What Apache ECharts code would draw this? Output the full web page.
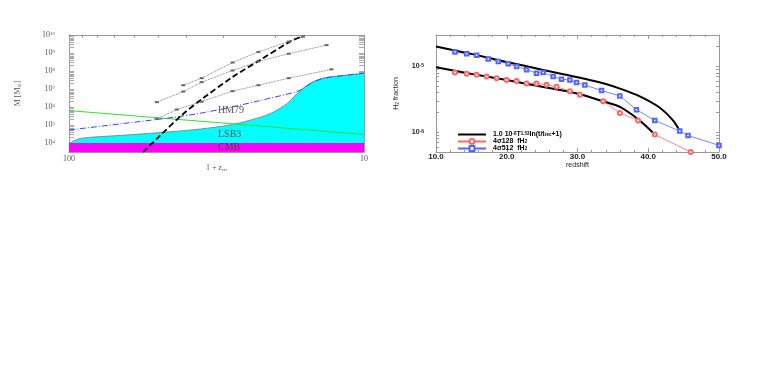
<!DOCTYPE html>
<html>
<head>
<meta charset="utf-8">
<script src="https://cdn.jsdelivr.net/npm/echarts@6/dist/echarts.min.js"></script>
<style>
html, body { margin: 0; background: #fff; }
#main { width: 763px; height: 382px; }
</style>
</head>
<body>
<div id="main"></div>
<script>
// ---- left panel: M [Msun] against 1 + z_vir ----
const cmbBand = [[100, 1e4], [10, 1e4]];
const lsbArea = [[100, 9.3e3], [91.8, 1.78e4], [67.2, 2.63e4], [49.1, 3.8e4], [35.9, 6.0e4], [28.5, 1.0e5],
  [24.3, 1.86e5], [20.8, 4.27e5], [18.2, 1.58e6], [16.5, 7.9e6], [14.9, 2.5e7], [13.6, 4.2e7], [11.6, 5.75e7], [10, 7.4e7]];
const hm79 = [[100, 5.25e4], [67.2, 1.15e5], [45.5, 2.5e5], [35.9, 4.5e5], [28.5, 9.5e5], [20.8, 3.1e6],
  [16.5, 8.3e6], [14.9, 2.4e7], [13.6, 4.0e7], [11.6, 5.75e7], [10, 7.6e7]];
const greenLine = [[100, 6.3e5], [10, 3.0e4]];
const dashedCurve = [[56.1, 3.16e3], [49.2, 2.5e4], [41.5, 3.5e5], [35.4, 2.8e6], [27.8, 4.8e7],
  [22.5, 4.1e8], [17.8, 4.3e9], [16.1, 8.9e9]];
const dotA = [[41.0, 1.62e7], [35.5, 4.0e7], [27.9, 2.95e8], [22.8, 1.15e9], [18.0, 4.3e9], [16.1, 8.1e9]];
const dotB = [[50.4, 1.86e6], [41.0, 7.2e6], [35.5, 2.4e7], [27.9, 1.07e8], [22.8, 3.4e8], [18.0, 9.1e8], [13.4, 2.75e9]];
const dotC = [[50.4, 2.2e5], [43.1, 7.2e5], [35.5, 2.0e6], [27.9, 7.6e6], [22.8, 1.62e7], [18.0, 4.0e7], [12.9, 1.23e8]];

const leftXLabels = [100, 10];
const leftXTicks = [10, 20, 30, 40, 50, 60, 70, 80, 90, 100];
const leftYLabels = [1e4, 1e5, 1e6, 1e7, 1e8, 1e9, 1e10];

// ---- right panel: H2 fraction against redshift ----
const fitHigh = [[10, 2.0e-5], [15, 1.55e-5], [20, 1.17e-5], [25, 8.9e-6], [28, 7.6e-6], [31, 6.5e-6], [34, 5.4e-6],
  [36, 4.6e-6], [38.8, 3.5e-6], [41.6, 2.37e-6], [43.5, 1.51e-6], [44.55, 1.0e-6]];
const fitLow = [[10, 9.7e-6], [15, 7.7e-6], [20, 6.2e-6], [25, 4.9e-6], [28.9, 4.1e-6], [30.3, 3.8e-6],
  [33.6, 2.95e-6], [36, 2.43e-6], [38.8, 1.51e-6], [40.6, 1.0e-6]];
const sigma128 = [[12.68, 8.1e-6], [14.33, 7.7e-6], [15.74, 7.45e-6], [17.15, 7.0e-6], [18.57, 6.6e-6], [19.98, 6.2e-6],
  [21.39, 6.0e-6], [22.8, 5.5e-6], [24.2, 5.5e-6], [25.63, 5.25e-6], [27.04, 4.9e-6], [28.92, 4.2e-6],
  [30.33, 3.7e-6], [33.63, 2.96e-6], [35.98, 1.96e-6], [38.57, 1.51e-6], [40.92, 9.2e-7], [46.0, 5.0e-7]];
const sigma512 = [[12.68, 1.66e-5], [14.33, 1.55e-5], [15.74, 1.48e-5], [17.39, 1.30e-5], [18.8, 1.19e-5], [20.21, 1.10e-5],
  [21.39, 1.0e-5], [22.8, 8.9e-6], [24.2, 7.9e-6], [25.15, 8.1e-6], [26.56, 7.0e-6], [27.74, 6.4e-6],
  [28.92, 6.2e-6], [29.86, 5.7e-6], [31.04, 5.2e-6], [33.4, 4.3e-6], [35.98, 3.55e-6], [38.33, 2.2e-6],
  [40.92, 1.51e-6], [44.45, 1.04e-6], [45.62, 8.9e-7], [50, 6.3e-7]];

const rightYLabels = [1e-6, 1e-5];

// minor ticks of a log axis: k * 10^n
function logTicks(lo, hi) {
  let out = [];
  for (let n = lo; n <= hi; n++) {
    for (let k = 1; k <= 9; k++) out.push(k * Math.pow(10, n));
  }
  return out;
}
function pow10(v) {
  return '{b|10}{s|' + Math.round(Math.log10(v)) + '}';
}

const serif = 'Liberation Serif';
const sans = 'Liberation Sans';
const frame = '#999';

let chart = echarts.init(document.getElementById('main'), null, { renderer: 'canvas' });
chart.setOption({
  animation: false,
  backgroundColor: '#fff',
  grid: [
    { left: 69, top: 35, width: 295, height: 117 },
    { left: 436, top: 35, width: 283, height: 117 }
  ],
  xAxis: [
    {
      gridIndex: 0, type: 'log', min: 10, max: 100, inverse: true, position: 'bottom',
      axisLine: { lineStyle: { color: frame } },
      axisTick: { inside: true, length: 3, customValues: leftXTicks, lineStyle: { color: frame } },
      axisLabel: { customValues: leftXLabels, formatter: v => String(Math.round(v)), margin: 3,
        fontFamily: serif, fontSize: 8, color: '#555' },
      splitLine: { show: false },
      name: '{a|1 + }{i|z}{u|vir}', nameLocation: 'middle', nameGap: 8,
      nameTextStyle: { rich: {
        a: { fontFamily: serif, fontSize: 8, color: '#555' },
        i: { fontFamily: serif, fontSize: 8, fontStyle: 'italic', color: '#555' },
        u: { fontFamily: serif, fontSize: 5, color: '#555', verticalAlign: 'bottom' }
      } }
    },
    {
      gridIndex: 0, type: 'log', min: 10, max: 100, inverse: true, position: 'top',
      axisLine: { lineStyle: { color: frame } },
      axisTick: { inside: true, length: 3, customValues: leftXTicks, lineStyle: { color: frame } },
      axisLabel: { show: false }, splitLine: { show: false }
    },
    {
      gridIndex: 1, type: 'value', min: 10, max: 50, interval: 10, position: 'bottom',
      axisLine: { lineStyle: { color: frame } },
      axisTick: { inside: true, length: 4, lineStyle: { color: frame } },
      minorTick: { show: true, splitNumber: 5, length: 2, lineStyle: { color: frame } },
      axisLabel: { formatter: v => v.toFixed(1), margin: 1, fontFamily: sans, fontWeight: 'bold', fontSize: 8, color: '#222' },
      splitLine: { show: false },
      name: 'redshift', nameLocation: 'middle', nameGap: 8,
      nameTextStyle: { fontFamily: sans, fontSize: 7, color: '#222' }
    },
    {
      gridIndex: 1, type: 'value', min: 10, max: 50, interval: 10, position: 'top',
      axisLine: { lineStyle: { color: frame } },
      axisTick: { inside: true, length: 4, lineStyle: { color: frame } },
      minorTick: { show: true, splitNumber: 5, length: 2, lineStyle: { color: frame } },
      axisLabel: { show: false }, splitLine: { show: false }
    }
  ],
  yAxis: [
    {
      gridIndex: 0, type: 'log', min: 3162, max: 1e10, position: 'left',
      axisLine: { lineStyle: { color: frame } },
      axisTick: { inside: true, length: 5, customValues: logTicks(3, 9), lineStyle: { color: '#aaa' } },
      axisLabel: { customValues: leftYLabels, formatter: pow10, margin: 14,
        rich: {
          b: { fontFamily: serif, fontSize: 8, color: '#555' },
          s: { fontFamily: serif, fontSize: 5, color: '#555', verticalAlign: 'top' }
        } },
      splitLine: { show: false },
      name: '{a|M [M}{u|⊙}{a|]}', nameLocation: 'middle', nameGap: 47,
      nameTextStyle: { rich: {
        a: { fontFamily: serif, fontSize: 8, color: '#555' },
        u: { fontFamily: 'DejaVu Sans', fontSize: 5, color: '#555', verticalAlign: 'bottom' }
      } }
    },
    {
      gridIndex: 0, type: 'log', min: 3162, max: 1e10, position: 'right',
      axisLine: { lineStyle: { color: frame } },
      axisTick: { inside: true, length: 5, customValues: logTicks(3, 9), lineStyle: { color: '#aaa' } },
      axisLabel: { show: false }, splitLine: { show: false }
    },
    {
      gridIndex: 1, type: 'log', min: 5e-7, max: 3e-5, position: 'left',
      axisLine: { lineStyle: { color: frame } },
      axisTick: { inside: true, length: 3, customValues: logTicks(-7, -5), lineStyle: { color: frame } },
      axisLabel: { customValues: rightYLabels, formatter: pow10, margin: 12,
        rich: {
          b: { fontFamily: sans, fontWeight: 'bold', fontSize: 7, color: '#222' },
          s: { fontFamily: sans, fontWeight: 'bold', fontSize: 5, color: '#222', verticalAlign: 'top' }
        } },
      splitLine: { show: false },
      name: '{a|H}{u|2}{a| fraction}', nameLocation: 'middle', nameGap: 36,
      nameTextStyle: { rich: {
        a: { fontFamily: sans, fontSize: 7, color: '#222' },
        u: { fontFamily: sans, fontSize: 5, color: '#222', verticalAlign: 'bottom' }
      } }
    },
    {
      gridIndex: 1, type: 'log', min: 5e-7, max: 3e-5, position: 'right',
      axisLine: { lineStyle: { color: frame } },
      axisTick: { inside: true, length: 3, customValues: logTicks(-7, -5), lineStyle: { color: frame } },
      axisLabel: { show: false }, splitLine: { show: false }
    }
  ],
  legend: {
    left: 452, top: 126, orient: 'vertical', itemWidth: 28, itemHeight: 6, itemGap: 0,
    data: [{ name: 'fit', icon: 'path://M0,0h28v2h-28z', itemStyle: { color: '#000' } }, 's128', 's512'],
    formatter: name => ({
      fit: '{b|1.0 10}{s|-8}{b|T}{s|1.53}{b|ln(t/t}{u|rec}{b|+1)}',
      s128: '{b|4σ128  fH}{u|2}',
      s512: '{b|4σ512  fH}{u|2}'
    })[name],
    textStyle: { padding: [0, 0, 0, 2], rich: {
      b: { fontFamily: sans, fontWeight: 'bold', fontSize: 7, color: '#000', lineHeight: 6.5 },
      s: { fontFamily: sans, fontWeight: 'bold', fontSize: 4.5, color: '#000', verticalAlign: 'top', lineHeight: 6.5 },
      u: { fontFamily: sans, fontWeight: 'bold', fontSize: 4.5, color: '#000', verticalAlign: 'bottom', lineHeight: 6.5 }
    } }
  },
  graphic: [
    { type: 'text', z: 100, left: 218, top: 105, style: { text: 'HM79', fontFamily: serif, fontSize: 10, fill: '#555' } },
    { type: 'text', z: 100, left: 218, top: 129, style: { text: 'LSB3', fontFamily: serif, fontSize: 10, fill: '#555' } },
    { type: 'text', z: 100, left: 218, top: 142, style: { text: 'CMB', fontFamily: serif, fontSize: 10, fill: '#444' } }
  ],
  series: [
    // left panel
    { type: 'line', xAxisIndex: 0, yAxisIndex: 0, data: lsbArea, smooth: 0.3, symbol: 'none',
      lineStyle: { color: '#777', width: 0.8 }, areaStyle: { color: '#00ffff', opacity: 1, origin: 'start' } },
    { type: 'line', xAxisIndex: 0, yAxisIndex: 0, data: cmbBand, symbol: 'none',
      lineStyle: { width: 0 }, areaStyle: { color: '#ff00ff', opacity: 1, origin: 'start' } },
    { type: 'line', xAxisIndex: 0, yAxisIndex: 0, data: greenLine, symbol: 'none',
      lineStyle: { color: '#33dd33', width: 1 } },
    { type: 'line', xAxisIndex: 0, yAxisIndex: 0, data: hm79, smooth: 0.3, symbol: 'none',
      lineStyle: { color: '#3344ff', width: 1, type: [6, 2, 1, 2] } },
    { type: 'line', xAxisIndex: 0, yAxisIndex: 0, data: dotA, symbol: 'rect', symbolSize: [4, 2],
      itemStyle: { color: '#666' }, lineStyle: { color: '#555', width: 0.8, type: 'dotted' } },
    { type: 'line', xAxisIndex: 0, yAxisIndex: 0, data: dotB, symbol: 'rect', symbolSize: [4, 2],
      itemStyle: { color: '#666' }, lineStyle: { color: '#555', width: 0.8, type: 'dotted' } },
    { type: 'line', xAxisIndex: 0, yAxisIndex: 0, data: dotC, symbol: 'rect', symbolSize: [4, 2],
      itemStyle: { color: '#666' }, lineStyle: { color: '#555', width: 0.8, type: 'dotted' } },
    { type: 'line', xAxisIndex: 0, yAxisIndex: 0, data: dashedCurve, smooth: 0.3, symbol: 'none',
      lineStyle: { color: '#000', width: 1.8, type: [6, 3] } },
    // right panel
    { name: 's128', type: 'line', xAxisIndex: 2, yAxisIndex: 2, data: sigma128, symbol: 'emptyCircle', symbolSize: 4,
      itemStyle: { color: '#ff6666', borderWidth: 0.8 }, lineStyle: { color: '#ff6666', width: 0.8 } },
    { name: 's512', type: 'line', xAxisIndex: 2, yAxisIndex: 2, data: sigma512, symbol: 'emptyRect', symbolSize: 3.5,
      itemStyle: { color: '#5566ff', borderWidth: 0.8 }, lineStyle: { color: '#5566ff', width: 0.8 } },
    { name: 'fit', type: 'line', xAxisIndex: 2, yAxisIndex: 2, data: fitHigh, smooth: 0.3, symbol: 'none',
      itemStyle: { color: '#000' }, lineStyle: { color: '#000', width: 2 } },
    { name: 'fit', type: 'line', xAxisIndex: 2, yAxisIndex: 2, data: fitLow, smooth: 0.3, symbol: 'none',
      itemStyle: { color: '#000' }, lineStyle: { color: '#000', width: 2 } }
  ]
});
</script>
</body>
</html>
